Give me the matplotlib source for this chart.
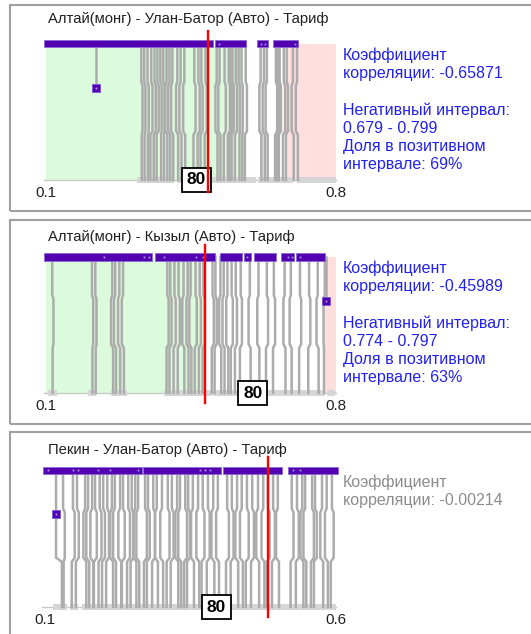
import matplotlib.pyplot as plt
from matplotlib.patches import Rectangle

plt.rcParams['font.family'] = ['Liberation Sans', 'DejaVu Sans']

W, H = 531, 634

# ---------------- данные ----------------
titles = ["Алтай(монг) - Улан-Батор (Авто) - Тариф",
          "Алтай(монг) - Кызыл (Авто) - Тариф",
          "Пекин - Улан-Батор (Авто) - Тариф"]
x_ranges = [(0.1, 0.8), (0.1, 0.8), (0.1, 0.6)]
threshold = [0.492, 0.484, 0.483]       # красная линия
label_pos = [0.463, 0.599, 0.394]       # где стоит "80"
label_text = "80"
positive = [(0.1, 0.572), (0.1, 0.480), None]
negative = [(0.679, 0.799), (0.774, 0.797), None]
info = [
    "Коэффициент\nкорреляции: -0.65871\n\nНегативный интервал:\n0.679 - 0.799\nДоля в позитивном\nинтервале: 69%",
    "Коэффициент\nкорреляции: -0.45989\n\nНегативный интервал:\n0.774 - 0.797\nДоля в позитивном\nинтервале: 63%",
    "Коэффициент\nкорреляции: -0.00214",
]

# верхние полосы (начало, ширина)
top_bars = [
    [(0.095, 0.407), (0.507, 0.075), (0.609, 0.026), (0.647, 0.061)],
    [(0.095, 0.262), (0.362, 0.145), (0.519, 0.053), (0.577, 0.017),
     (0.601, 0.054), (0.667, 0.031), (0.703, 0.070)],
    [(0.097, 0.170), (0.268, 0.134), (0.406, 0.101), (0.517, 0.086)],
]
top_dots = [
    [0.517, 0.618, 0.628, 0.701],
    [0.240, 0.337, 0.349, 0.386, 0.463, 0.478, 0.584, 0.684, 0.693, 0.713],
    [0.105, 0.148, 0.157, 0.191, 0.212, 0.260, 0.366, 0.375, 0.384, 0.526, 0.538],
]
# нижние полосы (начало, ширина)
bottom_bars = [
    [(0.320, 0.090), (0.417, 0.085), (0.500, 0.106), (0.611, 0.085), (0.706, 0.094)],
    [(0.105, 0.022), (0.202, 0.019), (0.257, 0.039), (0.386, 0.114), (0.502, 0.271), (0.778, 0.020)],
    [(0.114, 0.024), (0.143, 0.014), (0.164, 0.436)],
]
# точки с пропуском (x, уровень)
squares = [(0.221, 0.675), (0.776, 0.675), (0.119, 0.679)]
square_stems = [0.221, 0.776, None]

# линии: (x вверху, x в середине, x внизу)
lines1 = [(0.330, 0.333, 0.331), (0.337, 0.340, 0.338), (0.345, 0.348, 0.346),
          (0.354, 0.357, 0.352), (0.362, 0.365, 0.360), (0.369, 0.372, 0.367),
          (0.376, 0.379, 0.378), (0.383, 0.386, 0.385), (0.391, 0.388, 0.393),
          (0.398, 0.395, 0.400), (0.405, 0.402, 0.407), (0.417, 0.414, 0.419),
          (0.425, 0.422, 0.427), (0.434, 0.431, 0.436), (0.458, 0.461, 0.456),
          (0.468, 0.471, 0.466), (0.475, 0.478, 0.473), (0.485, 0.488, 0.483),
          (0.512, 0.509, 0.514), (0.519, 0.516, 0.521), (0.531, 0.534, 0.529),
          (0.541, 0.544, 0.539), (0.545, 0.548, 0.543), (0.550, 0.553, 0.548),
          (0.558, 0.561, 0.556), (0.565, 0.568, 0.567), (0.572, 0.575, 0.574),
          (0.582, 0.585, 0.580), (0.618, 0.615, 0.620), (0.626, 0.623, 0.628),
          (0.633, 0.630, 0.635), (0.655, 0.658, 0.653), (0.660, 0.663, 0.658),
          (0.664, 0.667, 0.662), (0.674, 0.677, 0.672), (0.681, 0.684, 0.679),
          (0.696, 0.693, 0.698), (0.706, 0.703, 0.708)]
lines2 = [(0.115, 0.118, 0.116), (0.211, 0.214, 0.212), (0.219, 0.222, 0.220),
          (0.260, 0.257, 0.262), (0.267, 0.264, 0.269), (0.277, 0.274, 0.279),
          (0.286, 0.283, 0.288), (0.393, 0.396, 0.391), (0.400, 0.403, 0.398),
          (0.410, 0.413, 0.408), (0.420, 0.423, 0.418), (0.432, 0.429, 0.434),
          (0.442, 0.439, 0.444), (0.449, 0.446, 0.451), (0.461, 0.464, 0.459),
          (0.471, 0.474, 0.469), (0.480, 0.483, 0.478), (0.502, 0.505, 0.500),
          (0.509, 0.512, 0.507), (0.521, 0.518, 0.523), (0.529, 0.526, 0.531),
          (0.538, 0.535, 0.540), (0.548, 0.551, 0.546), (0.558, 0.561, 0.556),
          (0.570, 0.573, 0.568), (0.592, 0.589, 0.594), (0.613, 0.610, 0.615),
          (0.633, 0.636, 0.631), (0.650, 0.653, 0.648), (0.676, 0.673, 0.678),
          (0.691, 0.688, 0.693), (0.713, 0.716, 0.711), (0.735, 0.738, 0.733),
          (0.756, 0.753, 0.758), (0.773, 0.770, 0.771)]
lines3 = [(0.119, 0.119, 0.129), (0.131, 0.134, 0.132), (0.148, 0.151, 0.146),
          (0.155, 0.158, 0.153), (0.169, 0.166, 0.171), (0.174, 0.171, 0.176),
          (0.181, 0.178, 0.183), (0.186, 0.189, 0.184), (0.194, 0.197, 0.192),
          (0.200, 0.203, 0.198), (0.207, 0.210, 0.205), (0.215, 0.212, 0.217),
          (0.220, 0.217, 0.222), (0.229, 0.226, 0.231), (0.234, 0.237, 0.232),
          (0.243, 0.246, 0.241), (0.249, 0.252, 0.247), (0.255, 0.252, 0.257),
          (0.260, 0.257, 0.262), (0.272, 0.275, 0.270), (0.277, 0.280, 0.275),
          (0.286, 0.289, 0.284), (0.292, 0.289, 0.294), (0.301, 0.298, 0.303),
          (0.311, 0.314, 0.309), (0.318, 0.321, 0.316), (0.327, 0.324, 0.329),
          (0.332, 0.329, 0.334), (0.341, 0.344, 0.339), (0.346, 0.349, 0.344),
          (0.354, 0.351, 0.356), (0.363, 0.360, 0.365), (0.371, 0.374, 0.369),
          (0.380, 0.383, 0.378), (0.389, 0.386, 0.391), (0.397, 0.394, 0.399),
          (0.413, 0.416, 0.411), (0.421, 0.424, 0.419), (0.430, 0.427, 0.432),
          (0.438, 0.435, 0.440), (0.447, 0.450, 0.445), (0.456, 0.459, 0.454),
          (0.466, 0.463, 0.468), (0.475, 0.472, 0.477), (0.483, 0.486, 0.481),
          (0.492, 0.495, 0.490), (0.500, 0.497, 0.502), (0.524, 0.527, 0.522),
          (0.533, 0.536, 0.531), (0.542, 0.539, 0.544), (0.547, 0.544, 0.549),
          (0.559, 0.562, 0.557), (0.564, 0.567, 0.562), (0.576, 0.573, 0.578),
          (0.584, 0.581, 0.586), (0.593, 0.596, 0.591)]
all_lines = [lines1, lines2, lines3]
kink_levels = [1, 0.72, 0.69, 0.36, 0.33, 0]

# ---------------- раскладка (пиксели) ----------------
panel_box = [(10, 5, 211), (10, 220, 424), (10, 432, 650)]   # x, верх, низ
bar_y = [(43.5, 180), (257, 393), (470, 607)]                 # верхняя и нижняя полосы
x_px = [(46, 336), (46, 336), (45, 336)]
title_y = [19, 237, 450]
red_px = [(31, 192), (245, 403), (457, 617)]
info_colors = ['#2222ee', '#2222ee', '#8c8c8c']


def fx(x):
    return x / W


def fy(y):
    return 1 - y / H


fig = plt.figure(figsize=(W / 100, H / 100), dpi=100)

for i in range(3):
    bx, btop, bbot = panel_box[i]
    fig.add_artist(Rectangle((fx(bx), fy(bbot)), fx(W + 20 - bx), (bbot - btop) / H,
                             transform=fig.transFigure, fill=False,
                             ec='#a0a0a0', lw=1.5))
    fig.text(fx(48), fy(title_y[i]), titles[i], fontsize=10.6, color='#202020',
             va='center', ha='left')

    ytop, ybot = bar_y[i]
    unit = ybot - ytop
    ax_top = ytop - 10
    ax_bot = ybot + 3
    x0p, x1p = x_px[i]
    ax = fig.add_axes([fx(x0p), fy(ax_bot), fx(x1p - x0p), (ax_bot - ax_top) / H])
    xmin, xmax = x_ranges[i]
    ax.set_xlim(xmin, xmax)
    ax.set_ylim(-(ax_bot - ybot) / unit, 1 + (ytop - ax_top) / unit)
    ax.patch.set_alpha(0)
    for s in ax.spines.values():
        s.set_visible(False)
    ax.set_yticks([])
    ax.set_xticks([xmin, xmax])
    ax.set_xticklabels([str(xmin), str(xmax)])
    ax.tick_params(axis='x', length=0, pad=2, labelsize=11, labelcolor='#202020')

    # фон интервалов
    if positive[i]:
        ax.fill_between(positive[i], 0, 1, color='#dcfadc', lw=0, zorder=0)
    if negative[i]:
        ax.fill_between([negative[i][0], xmax], 0, 1, color='#ffdede', lw=0, zorder=0)

    # базовая линия и нижние полосы
    ax.plot([xmin - 0.005, xmax], [0, 0], color='#c8c8c8', lw=1, zorder=1, clip_on=False)
    hb = 6 / unit
    ax.broken_barh(bottom_bars[i], (-hb / 2, hb), facecolor='#d6d6d6', lw=0,
                   zorder=2, clip_on=False)

    # линии
    for xt, xm, xb in all_lines[i]:
        ax.plot([xt, xt, xm, xm, xb, xb], kink_levels,
                color='#acacac', lw=1.8, zorder=3, solid_joinstyle='miter')

    if square_stems[i] is not None:
        sx = square_stems[i]
        ax.plot([sx, sx], [1, squares[i][1]], color='#acacac', lw=1.8, zorder=3)

    # верхние полосы
    ht = 7 / unit
    ax.broken_barh(top_bars[i], (1 - ht / 2, ht), facecolor='#5200b0',
                   edgecolor='#8a6ad8', lw=0.6, zorder=4, clip_on=False)
    ax.plot(top_dots[i], [1] * len(top_dots[i]), 's', ms=1.3, color='#a898e8',
            mew=0, zorder=5, clip_on=False)

    # квадрат
    ax.plot([squares[i][0]], [squares[i][1]], 's', ms=5.5, mfc='#5200b0',
            mec='#7a58d8', mew=0.6, zorder=5, clip_on=False)
    ax.plot([squares[i][0]], [squares[i][1]], 's', ms=1.3, color='#a898e8',
            mew=0, zorder=6, clip_on=False)

    # метка 80
    ax.text(label_pos[i], 0, label_text, ha='center', va='center', fontsize=12.5,
            fontweight='bold', color='black', zorder=7, clip_on=False,
            bbox=dict(boxstyle='square,pad=0.28', facecolor='white',
                      edgecolor='black', lw=1.3))

    # красная линия
    r0, r1 = red_px[i]
    ax.plot([threshold[i], threshold[i]], [1 + (ytop - r0) / unit, -(r1 - ybot) / unit],
            color='#ff0000', lw=1.7, zorder=8, clip_on=False)

    fig.text(fx(343), fy(ytop + 4), info[i], fontsize=11.5, color=info_colors[i],
             va='top', ha='left', linespacing=1.25)

fig.savefig('out.png', dpi=100, facecolor='white')
